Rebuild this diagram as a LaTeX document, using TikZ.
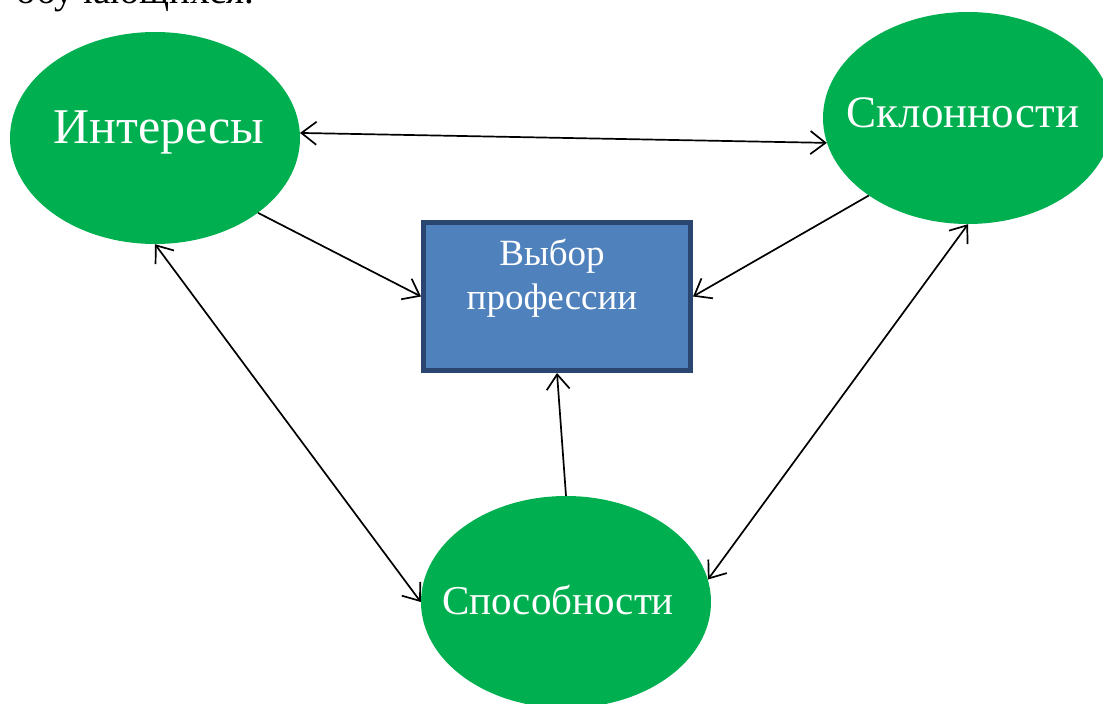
\documentclass[tikz,border=0pt]{standalone}
\usepackage{fontspec}
\setmainfont{Liberation Serif}
\usetikzlibrary{positioning,shapes.geometric,arrows.meta}
\definecolor{ovalgreen}{HTML}{00B050}
\definecolor{boxblue}{HTML}{4F81BD}
\definecolor{boxline}{HTML}{2A4670}

\begin{document}
\begin{tikzpicture}[
  x=1pt,y=-1pt,
  >={Straight Barb[length=15pt,width=23pt]},
  myoval/.style={ellipse,fill=ovalgreen,minimum width=290pt,minimum height=212pt,inner sep=0pt},
  ovaltext/.style={text=white,inner sep=0pt},
  mybox/.style={rectangle,draw=boxline,line width=5pt,fill=boxblue,minimum width=267pt,minimum height=148pt,inner sep=0pt},
  myarrow/.style={line width=1.7pt}
]
\useasboundingbox (0,0) rectangle (1103,704);
\clip (0,0) rectangle (1103,704);

\node[anchor=base west,font=\fontsize{39}{46}\selectfont] (top) at (13,3) {обучающихся.};

\node[myoval,label={[ovaltext,font=\fontsize{50}{60}\selectfont,xshift=4pt,yshift=6pt]center:Интересы}] (int) at (155,138) {};
\node[myoval,label={[ovaltext,font=\fontsize{45}{54}\selectfont,xshift=-5pt,yshift=5pt]center:Склонности}] (skl) at (968,118) {};
\node[myoval,label={[ovaltext,font=\fontsize{41}{50}\selectfont,xshift=-8pt,yshift=2pt]center:Способности}] (spo) at (566,602) {};
\node[mybox,label={[ovaltext,align=center,font=\fontsize{37}{44}\selectfont,xshift=-5pt,yshift=18.5pt]center:{Выбор\\профессии}}] (vyb) at (557,296.5) {};

\path[myarrow]
(int.2) edge[<->] (skl.190)
(int.324) edge[->] (vyb.west)
(skl.218) edge[->] (vyb.east)
(spo.north) edge[->] (vyb.south)
(int.south) edge[<->] (spo.west)
(skl.south) edge[<->] (spo.9);

\end{tikzpicture}
\end{document}
